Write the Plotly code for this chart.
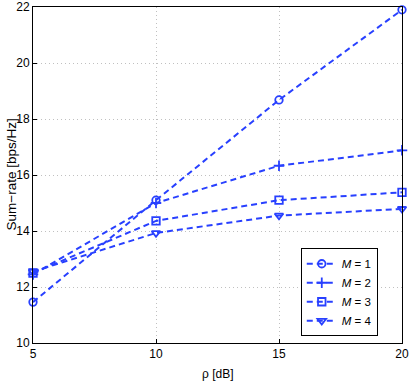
import plotly.graph_objects as go

rho_db = [5, 10, 15, 20]
rate_m1 = [11.46, 15.1, 18.68, 21.9]
rate_m2 = [12.45, 15.0, 16.33, 16.88]
rate_m3 = [12.5, 14.36, 15.1, 15.38]
rate_m4 = [12.55, 13.93, 14.55, 14.79]
series_names = ['<i>M</i> = 1', '<i>M</i> = 2', '<i>M</i> = 3', '<i>M</i> = 4']
symbols = ['circle-open', 'cross-thin-open', 'square-open', 'triangle-down-open']

BLUE = 'rgb(40,64,255)'

fig = go.Figure()
for name, ys, sym in zip(series_names, [rate_m1, rate_m2, rate_m3, rate_m4], symbols):
    fig.add_trace(go.Scatter(
        x=rho_db, y=ys, name=name, mode='lines+markers',
        line=dict(color=BLUE, width=2, dash='6px,4px'),
        marker=dict(symbol=sym, size=7.5, color=BLUE, line=dict(color=BLUE, width=1.8)),
        cliponaxis=False,
    ))

axis_common = dict(
    showline=True, linecolor='black', linewidth=1, mirror=True,
    ticks='inside', ticklen=4, tickcolor='black',
    showgrid=True, gridcolor='#c0c0c0', griddash='1px,3px', gridwidth=1,
    zeroline=False, tickfont=dict(size=12, color='black'), automargin=False,
)

fig.update_layout(
    width=409, height=382,
    margin=dict(l=33, r=7, t=7, b=39),
    paper_bgcolor='white', plot_bgcolor='white',
    font=dict(family='Liberation Sans, Arial, sans-serif', size=12, color='black'),
    xaxis=dict(range=[5, 20], tickvals=[5, 10, 15, 20], **axis_common),
    yaxis=dict(range=[10, 22], tickvals=[10, 12, 14, 16, 18, 20, 22], **axis_common),
    legend=dict(x=0.83, y=0.282, xanchor='center', yanchor='top',
                bordercolor='black', borderwidth=1, bgcolor='white',
                font=dict(size=11.5), tracegroupgap=0, itemwidth=30,
                entrywidth=50),
    showlegend=True,
    annotations=[
        dict(text='ρ [dB]', x=0.5, y=0, xref='paper', yref='paper', yshift=-22,
             xanchor='center', yanchor='top', showarrow=False, font=dict(size=12)),
        dict(text='Sum−rate [bps/Hz]', x=0, y=0.5, xref='paper', yref='paper', xshift=-32,
             xanchor='left', yanchor='middle', textangle=-90, showarrow=False, font=dict(size=13.5)),
    ],
)

# the page body has a default 8px margin; drop it so the figure sits at the corner
fig.write_html("out.html", config={'displayModeBar': False},
               post_script="document.body.style.margin='0';")
